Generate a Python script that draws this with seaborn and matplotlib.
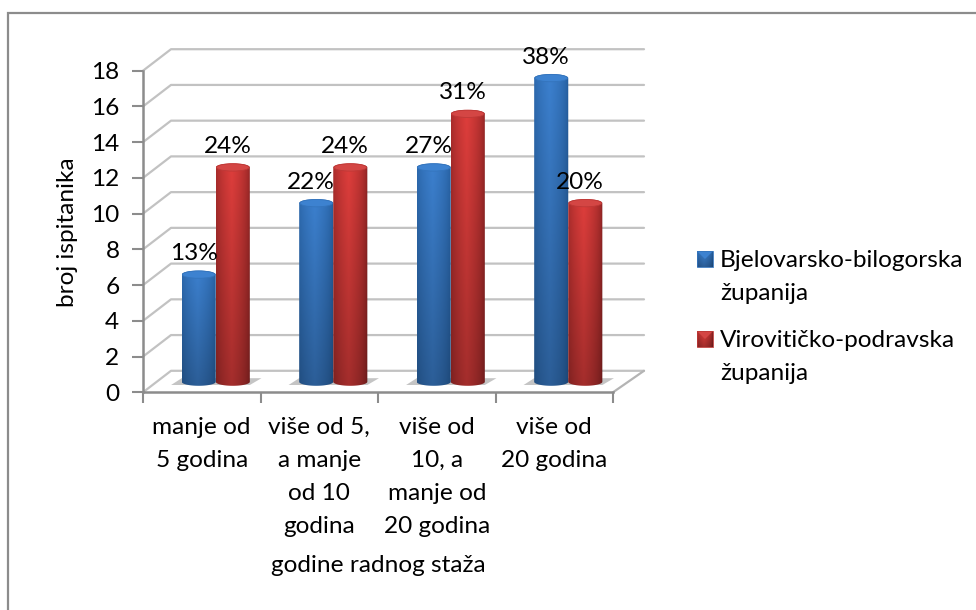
import numpy as np
import pandas as pd
import seaborn as sns
import matplotlib.pyplot as plt
from matplotlib.path import Path
from matplotlib.patches import Ellipse, Polygon, Rectangle

categories = ["manje od\n5 godina", "više od 5,\na manje\nod 10\ngodina",
              "više od\n10, a\nmanje od\n20 godina", "više od\n20 godina"]
bjelovar = [6, 10, 12, 17]
virovitica = [12, 12, 15, 10]
bjelovar_pct = ["13%", "22%", "27%", "38%"]
virovitica_pct = ["24%", "24%", "31%", "20%"]
series_names = ["Bjelovarsko-bilogorska\nžupanija", "Virovitičko-podravska\nžupanija"]
y_ticks = list(range(0, 20, 2))

W, H = 976, 610
X0, X1, Y0, Y1 = 143, 613, 392.3, 70.7   # front plane of the plot, in pixels
DX, DY = 28, 21.5                        # depth of the 3d box
BACK_X1 = 644
TEXT = 17.6


def box(x0, x1, y_bottom, y_top):
    return [x0 / W, 1 - y_bottom / H, (x1 - x0) / W, (y_bottom - y_top) / H]


def gradient(dark, light):
    u = np.linspace(0, 1, 60)
    v = np.linspace(1.03, 0.76, 60)[:, None, None]
    shade = np.clip(1 - np.abs(u - 0.45) / 0.55, 0, 1) ** 0.45
    rgb = np.outer(shade, light) + np.outer(1 - shade, dark)
    return np.clip(rgb[None, :, :] * v / 255, 0, 1)


sns.set_theme(style="white")
plt.rcParams["font.family"] = ["Lato", "DejaVu Sans"]
plt.rcParams["text.color"] = "black"
plt.rcParams["axes.labelcolor"] = "black"
plt.rcParams["xtick.labelcolor"] = "black"
plt.rcParams["ytick.labelcolor"] = "black"

fig = plt.figure(figsize=(W / 100, H / 100), dpi=100)

# backdrop in pixel coordinates: frame, walls, legend
bg = fig.add_axes([0, 0, 1, 1], zorder=0)
bg.set_xlim(0, W)
bg.set_ylim(H, 0)
bg.axis("off")
bg.plot([W, 8, 8], [13, 13, H], color="#8c8c8c", lw=1.6, solid_joinstyle="miter")

unit = (Y0 - Y1) / max(y_ticks)
for t in y_ticks:
    y = Y0 - t * unit
    bg.plot([X0, X0 + DX, BACK_X1], [y, y - DY, y - DY], color="#c2c2c2", lw=1.6)
bg.plot([X1, BACK_X1], [Y0, Y0 - DY], color="#b4b4b4", lw=1.6)

# front axes carries the ticks and tick labels
ax = fig.add_axes(box(X0, X1, Y0, Y1), zorder=1)
ax.patch.set_alpha(0)
ax.set_xlim(0, len(categories))
ax.set_ylim(0, max(y_ticks))
ax.set_yticks(y_ticks)
ax.set_xticks(range(len(categories) + 1))
ax.set_xticklabels([])
ax.set_xticks(np.arange(len(categories)) + 0.5, categories, minor=True, linespacing=1.7)
ax.tick_params(axis="x", which="minor", length=0, pad=18, labelsize=TEXT)
ax.tick_params(axis="x", which="major", length=8, width=1.5, color="#8c8c8c", bottom=True)
ax.tick_params(axis="y", length=8, width=1.5, color="#8c8c8c", left=True, pad=9, labelsize=TEXT)
sns.despine(ax=ax)
for side in ["left", "bottom"]:
    ax.spines[side].set_color("#8c8c8c")
    ax.spines[side].set_linewidth(1.8)
ax.set_ylabel("broj ispitanika", fontsize=TEXT)
ax.yaxis.set_label_coords((78 - X0) / (X1 - X0), (Y0 - 232) / (Y0 - Y1))
fig.text(378 / W, 1 - 566 / H, "godine radnog staža", fontsize=TEXT, ha="center", va="center")

# bars sit in the middle of the box depth
bars_ax = fig.add_axes(box(X0 + DX / 2, X1 + DX / 2, Y0 - 10.5, Y1 - 10.5), zorder=2)
df = pd.DataFrame({
    "kategorija": categories * 2,
    "broj": bjelovar + virovitica,
    "zupanija": [series_names[0]] * 4 + [series_names[1]] * 4,
})
sns.barplot(data=df, x="kategorija", y="broj", hue="zupanija", width=0.58, gap=0,
            palette=["#3678c4", "#c93a3a"], legend=False, ax=bars_ax, saturation=1, zorder=2)
bars_ax.set_ylim(0, max(y_ticks))
bars_ax.set_xlim(-0.5, len(categories) - 0.5)
bars_ax.axis("off")

styles = [
    (gradient((30, 82, 140), (58, 124, 200)), "#3d82d0", "#3474bc", bjelovar_pct),
    (gradient((118, 28, 28), (216, 60, 58)), "#d44644", "#bd3836", virovitica_pct),
]
ry = 4 / unit

# floor shadow under each pair of bars
left_bars, right_bars = bars_ax.containers[0], bars_ax.containers[1]
for a, b in zip(left_bars, right_bars):
    l, r = a.get_x(), b.get_x() + b.get_width()
    pad = 0.09
    bars_ax.add_patch(Polygon([(l - pad, -ry * 0.8), (l, ry * 0.9), (r + pad * 1.1, ry * 0.9), (r, -ry * 0.8)],
                              closed=True, fc="#8a8a8a", ec="none", alpha=0.5, zorder=1, clip_on=False))

for container, (img, top_col, rim_col, pcts) in zip(bars_ax.containers, styles):
    for bar, pct in zip(container, pcts):
        x, w, h = bar.get_x(), bar.get_width(), bar.get_height()
        bar.set_visible(False)
        t = np.linspace(0, np.pi, 40)
        cx = x + w / 2
        lower = np.c_[cx - w / 2 * np.cos(t), -ry * np.sin(t)]
        upper = np.c_[cx + w / 2 * np.cos(t), h + ry * np.sin(t)]
        outline = Path(np.vstack([lower, upper, lower[:1]]))
        im = bars_ax.imshow(img, extent=(x, x + w, -ry, h + ry), aspect="auto", zorder=3,
                            interpolation="bilinear", origin="upper")
        im.set_clip_path(outline, transform=bars_ax.transData)
        im.set_clip_box(fig.bbox)
        bars_ax.add_patch(Ellipse((cx, h), w * 0.96, 2 * ry * 0.92, fc=top_col, ec=rim_col, lw=0.6,
                                  zorder=4, clip_on=False))
        bars_ax.annotate(pct, (cx, h), xytext=(-5 * 0.72, 21 * 0.72), textcoords="offset points",
                         ha="center", va="center", fontsize=TEXT, zorder=6, annotation_clip=False)
bars_ax.set_ylim(0, max(y_ticks))
bars_ax.set_xlim(-0.5, len(categories) - 0.5)

# legend, pixel placed because each entry wraps on two lines
overlay = fig.add_axes([0, 0, 1, 1], zorder=3)
overlay.set_xlim(0, W)
overlay.set_ylim(H, 0)
overlay.axis("off")
for name, (img, top_col, rim_col, _), y in zip(series_names, styles, [259, 339]):
    overlay.imshow(img, extent=(697, 713, y + 8, y - 8), aspect="auto", zorder=2)
    overlay.add_patch(Polygon([(697, y - 8), (713, y - 8), (705, y)], fc=top_col, ec="none", zorder=3))
    overlay.add_patch(Rectangle((697, y - 8), 16, 16, fc="none", ec=rim_col, lw=0.6, zorder=4))
    overlay.text(720, y + 18, name, fontsize=TEXT, va="center", ha="left", linespacing=1.7)
overlay.set_xlim(0, W)
overlay.set_ylim(H, 0)

fig.savefig("out.png", dpi=100)
